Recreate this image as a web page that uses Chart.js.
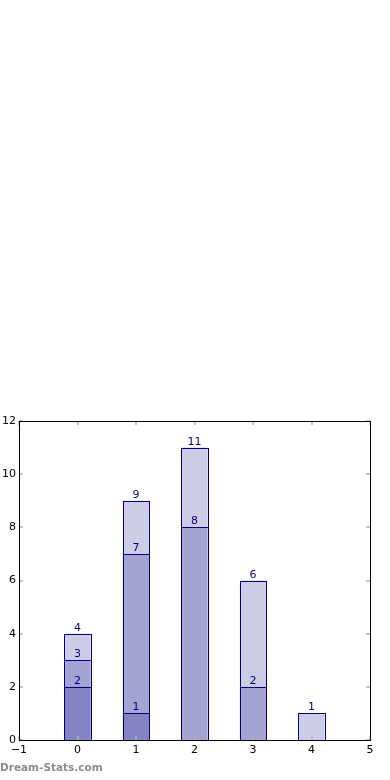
<!DOCTYPE html>
<html>
<head>
<meta charset="utf-8">
<script src="https://cdn.jsdelivr.net/npm/chart.js@4/dist/chart.umd.min.js"></script>
<style>
  html, body { margin: 0; padding: 0; background: #ffffff; }
  #wrap { position: relative; width: 390px; height: 780px; }
  #mark { position: absolute; left: 0px; top: 761px; font-family: "DejaVu Sans", sans-serif; font-weight: bold; font-size: 10.5px; color: #8c8c8c; }
</style>
</head>
<body>
<div id="wrap">
  <canvas id="c" width="390" height="780"></canvas>
  <div id="mark">Dream-Stats.com</div>
</div>
<script>
// Data
const xPositions = [0, 1, 2, 3, 4];
const layerTotal = [4, 9, 11, 6, 1];
const layerMiddle = [3, 7, 8, 2];
const layerLower = [2, 1];
const xTicks = [-1, 0, 1, 2, 3, 4, 5];
const yTicks = [0, 2, 4, 6, 8, 10, 12];

const fillColor = 'rgba(0,0,128,0.2)';
const edgeColor = '#000080';

function toPoints(values) {
  return values.map((v, i) => ({ x: xPositions[i], y: v }));
}

const frameAndTicks = {
  id: 'frameAndTicks',
  afterDatasetsDraw(chart) {
    const ctx = chart.ctx;
    const a = chart.chartArea;
    const xs = chart.scales.x, ys = chart.scales.y;
    ctx.save();
    // crisp bar edges
    ctx.strokeStyle = edgeColor;
    ctx.lineWidth = 1;
    chart.data.datasets.forEach((ds, di) => {
      chart.getDatasetMeta(di).data.forEach(el => {
        const l = Math.round(el.x - el.width / 2), r = Math.round(el.x + el.width / 2);
        const t = Math.round(el.y), b = Math.round(el.base);
        ctx.strokeRect(l + 0.5, t + 0.5, r - l, b - t);
      });
    });
    // value labels
    ctx.fillStyle = edgeColor;
    ctx.font = '11px "DejaVu Sans"';
    ctx.textAlign = 'center';
    ctx.textBaseline = 'alphabetic';
    chart.data.datasets.forEach((ds, di) => {
      const meta = chart.getDatasetMeta(di);
      meta.data.forEach((el, i) => {
        ctx.fillText(String(ds.data[i].y), el.x, el.y - 3);
      });
    });
    // inward ticks
    ctx.strokeStyle = '#b4b4b4';
    ctx.lineWidth = 1.5;
    const len = 4;
    xTicks.forEach(t => {
      const px = Math.round(xs.getPixelForValue(t));
      ctx.beginPath();
      ctx.moveTo(px, a.bottom); ctx.lineTo(px, a.bottom - len);
      ctx.moveTo(px, a.top); ctx.lineTo(px, a.top + len);
      ctx.stroke();
    });
    yTicks.forEach(t => {
      const py = Math.round(ys.getPixelForValue(t));
      ctx.beginPath();
      ctx.moveTo(a.left, py); ctx.lineTo(a.left + len, py);
      ctx.moveTo(a.right, py); ctx.lineTo(a.right - len, py);
      ctx.stroke();
    });
    // frame
    ctx.strokeStyle = '#000000';
    ctx.lineWidth = 1;
    ctx.strokeRect(Math.round(a.left) + 0.5, Math.round(a.top) + 0.5, Math.round(a.right - a.left), Math.round(a.bottom - a.top));
    ctx.restore();
  }
};

new Chart(document.getElementById('c'), {
  type: 'bar',
  data: {
    datasets: [
      { data: toPoints(layerTotal) },
      { data: toPoints(layerMiddle) },
      { data: toPoints(layerLower) }
    ].map(d => Object.assign(d, {
      backgroundColor: fillColor,
      borderColor: edgeColor,
      borderWidth: 0,
      grouped: false,
      barPercentage: 0.45,
      categoryPercentage: 1.0
    }))
  },
  options: {
    responsive: false,
    animation: false,
    devicePixelRatio: 1,
    layout: { padding: { top: 421, right: 20, left: 0, bottom: 0 } },
    plugins: { legend: { display: false }, tooltip: { enabled: false } },
    scales: {
      x: {
        type: 'linear',
        offset: false,
        min: -1, max: 5,
        afterBuildTicks(scale) { scale.ticks = xTicks.map(v => ({ value: v })); },
        afterFit(scale) { scale.height = 40; },
        grid: { display: false, drawTicks: false, offset: false },
        border: { display: false },
        ticks: {
          padding: 4,
          color: '#000000',
          font: { family: 'DejaVu Sans', size: 11 },
          callback: v => String(v).replace('-', '\u2212'),
          maxRotation: 0
        }
      },
      y: {
        type: 'linear',
        min: 0, max: 12,
        afterBuildTicks(scale) { scale.ticks = yTicks.map(v => ({ value: v })); },
        afterFit(scale) { scale.width = 19; },
        grid: { display: false, drawTicks: false },
        border: { display: false },
        ticks: {
          padding: 3,
          color: '#000000',
          font: { family: 'DejaVu Sans', size: 11 }
        }
      }
    }
  },
  plugins: [frameAndTicks]
});
</script>
</body>
</html>
